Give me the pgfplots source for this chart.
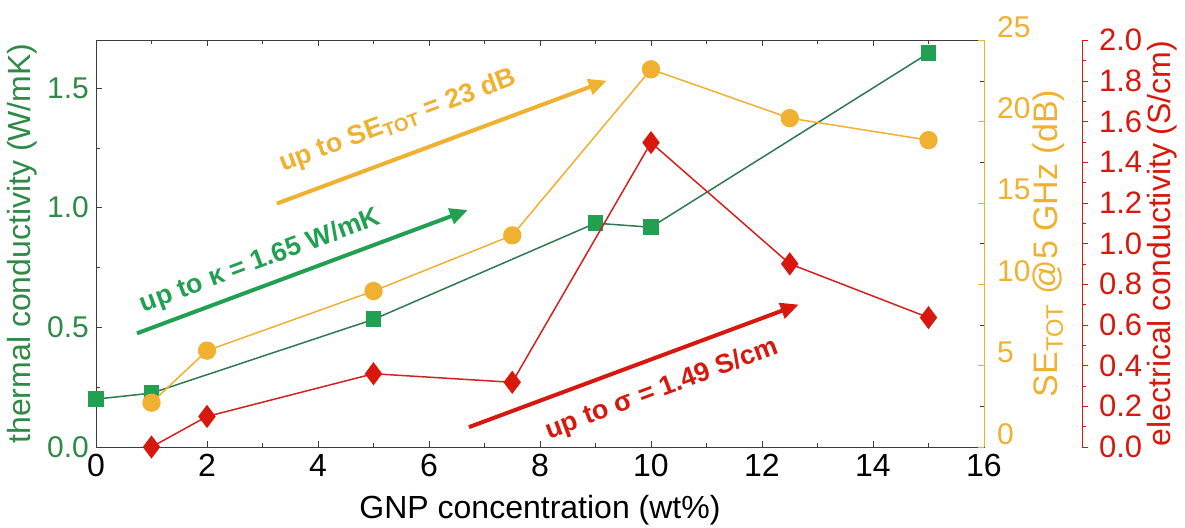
\documentclass[border=0pt]{standalone}
\usepackage{fontspec}
\setmainfont{Liberation Sans}
\usepackage{pgfplots}
\pgfplotsset{compat=1.18}
\usetikzlibrary{arrows.meta}

\definecolor{kmark}{HTML}{21A052}
\definecolor{kline}{HTML}{2E7A50}
\definecolor{klab}{HTML}{2E8A46}
\definecolor{seyel}{HTML}{F0B030}
\definecolor{ecred}{HTML}{D8180C}
\definecolor{ecline}{HTML}{D42020}
\definecolor{frame}{HTML}{3C3C3C}

\pgfplotsset{
  common/.style={
    scale only axis, width=444pt, height=203.5pt,
    xmin=0, xmax=16, clip=false,
    /pgf/number format/assume math mode=true,
    tick label style={font=\fontsize{15}{15}\selectfont},
    major tick length=3pt, minor tick length=2pt,
  },
}

\begin{document}
\begin{tikzpicture}
\path[use as bounding box] (-48pt,-40pt) rectangle (544.5pt,223.5pt);

% thermal conductivity, left axis
\begin{axis}[common,
  axis line style={frame}, tick style={frame},
  ymin=0, ymax=1.7,
  xtick={0,2,...,16}, minor x tick num=1,
  ytick={0,0.5,1.0,1.5}, minor y tick num=1,
  ytick pos=left,
  xticklabel style={font=\fontsize{16}{16}\selectfont},
  yticklabel style={color=klab, /pgf/number format/fixed,
    /pgf/number format/fixed zerofill, /pgf/number format/precision=1},
  xlabel={GNP concentration (wt\%)},
  ylabel={thermal conductivity (W/mK)},
  every axis x label/.style={at={(axis description cs:0.5,-0.155)}, anchor=center,
    font=\fontsize{16}{18}\selectfont},
  every axis y label/.style={at={(axis description cs:-0.0833,0.5)}, rotate=90, anchor=center,
    color=klab, font=\fontsize{16}{18}\selectfont},
]
\addplot[kline, line width=0.75pt, mark=square*, mark size=3.6pt,
  mark options={fill=kmark, draw=kmark}]
  coordinates {(0,0.20) (1,0.225) (5,0.533) (9,0.935) (10,0.918) (15,1.645)};

% annotations
\draw[kmark, line width=2pt, -{Triangle[length=9pt,width=8pt]}] (axis cs:0.74,0.475) -- (axis cs:6.7,0.99);
\draw[seyel, line width=2pt, -{Triangle[length=9pt,width=8pt]}] (axis cs:3.26,1.017) -- (axis cs:9.2,1.53);
\draw[ecred, line width=2pt, -{Triangle[length=9pt,width=8pt]}] (axis cs:6.72,0.083) -- (axis cs:12.66,0.595);
\node[kmark, rotate=20.5, font=\fontsize{13.4}{13.4}\selectfont\bfseries] at (axis cs:2.96,0.775) {up to κ = 1.65 W/mK};
\node[seyel, rotate=20.5, font=\fontsize{13.4}{13.4}\selectfont\bfseries] at (axis cs:5.44,1.36) {up to SE\textsubscript{TOT} = 23 dB};
\node[ecred, rotate=20.5, font=\fontsize{13.4}{13.4}\selectfont\bfseries] at (axis cs:10.2,0.24) {up to σ = 1.49 S/cm};
\end{axis}

% shielding effectiveness, first right axis
\begin{axis}[common,
  axis x line=none, axis y line*=right,
  ymin=0, ymax=25, ytick={0,5,...,25}, minor y tick num=1,
  axis line style={seyel}, major tick style={seyel}, minor tick style={frame},
  yticklabel style={color=seyel, yshift=6.5pt, xshift=3pt},
  ylabel={SE\textsubscript{TOT} @5 GHz (dB)},
  every axis y label/.style={at={(axis description cs:1.073,0.5)}, rotate=90, anchor=center,
    color=seyel, font=\fontsize{17}{19}\selectfont},
]
\addplot[seyel, line width=0.75pt, mark=*, mark size=4.2pt,
  mark options={fill=seyel, draw=seyel}]
  coordinates {(1,2.72) (2,5.92) (5,9.58) (7.5,13.0) (10,23.2) (12.5,20.2) (15,18.85)};
\end{axis}

% electrical conductivity, offset right axis
\begin{axis}[common,
  axis x line=none, axis y line*=right, axis y line shift=49pt,
  ymin=0, ymax=2, ytick={0,0.2,0.4,0.6,0.8,1.0,1.2,1.4,1.6,1.8,2.0},
  minor y tick num=1, tick align=outside,
  axis line style={ecred}, tick style={ecred},
  yticklabel style={color=ecred, xshift=2pt, font=\fontsize{15.5}{15.5}\selectfont,
    /pgf/number format/fixed,
    /pgf/number format/fixed zerofill, /pgf/number format/precision=1},
  ylabel={electrical conductivity (S/cm)},
  every axis y label/.style={at={(axis description cs:1.2005,0.5)}, rotate=90, anchor=center,
    color=ecred, font=\fontsize{16}{18}\selectfont},
]
\addplot[ecline, line width=0.75pt, mark=diamond*, mark size=5.2pt,
  mark options={fill=ecred, draw=ecred}]
  coordinates {(1,0.0) (2,0.15) (5,0.36) (7.5,0.318) (10,1.496) (12.5,0.90) (15,0.636)};
\end{axis}
\end{tikzpicture}
\end{document}
